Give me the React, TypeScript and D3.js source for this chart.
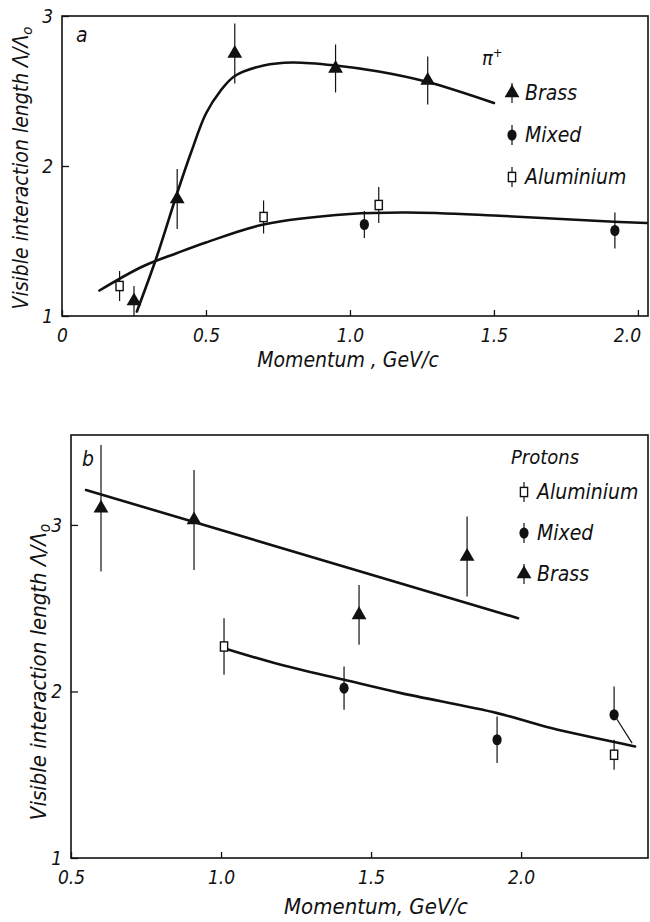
import * as d3 from 'd3';
import React, { useRef, useEffect } from 'react';

const W = 650;
const H = 922;
const FONT = "'Liberation Sans Narrow', 'DejaVu Sans Condensed', 'DejaVu Sans', sans-serif";
const INK = '#111';

// ---- panel a : pi+ ----
const aTicksX = [0, 0.5, 1.0, 1.5, 2.0];
const aTickLabelsX = ['0', '0.5', '1.0', '1.5', '2.0'];
const aTicksY = [1, 2, 3];
// momentum, value, error
const aBrass = [
  { p: 0.25, v: 1.1, e: 0.1 },
  { p: 0.4, v: 1.78, e: 0.2 },
  { p: 0.6, v: 2.75, e: 0.2 },
  { p: 0.95, v: 2.65, e: 0.16 },
  { p: 1.27, v: 2.57, e: 0.16 },
];
const aMixed = [
  { p: 1.05, v: 1.61, e: 0.09 },
  { p: 1.92, v: 1.57, e: 0.12 },
];
const aAlum = [
  { p: 0.2, v: 1.2, e: 0.1 },
  { p: 0.7, v: 1.66, e: 0.11 },
  { p: 1.1, v: 1.74, e: 0.12 },
];
const aBrassFit = [
  [0.26, 1.03], [0.33, 1.4], [0.4, 1.82], [0.45, 2.1], [0.5, 2.35], [0.55, 2.5],
  [0.6, 2.6], [0.7, 2.67], [0.8, 2.69], [0.95, 2.67], [1.1, 2.63], [1.27, 2.56], [1.5, 2.42],
];
const aAlumFit = [
  [0.13, 1.17], [0.28, 1.33], [0.4, 1.42], [0.5, 1.49], [0.7, 1.61], [1.0, 1.68],
  [1.2, 1.69], [1.5, 1.67], [1.9, 1.63], [2.03, 1.62],
];
const aLegend = ['Brass', 'Mixed', 'Aluminium'];

// ---- panel b : protons ----
const bTicksX = [0.5, 1.0, 1.5, 2.0];
const bTickLabelsX = ['0.5', '1.0', '1.5', '2.0'];
const bTicksY = [1, 2, 3];
const bBrass = [
  { p: 0.6, v: 3.1, e: 0.38 },
  { p: 0.91, v: 3.03, e: 0.3 },
  { p: 1.46, v: 2.46, e: 0.18 },
  { p: 1.82, v: 2.81, e: 0.24 },
];
const bMixed = [
  { p: 1.41, v: 2.02, e: 0.13 },
  { p: 1.92, v: 1.71, e: 0.14 },
  { p: 2.31, v: 1.86, e: 0.17, skew: 0.06 },
];
const bAlum = [
  { p: 1.01, v: 2.27, e: 0.17 },
  { p: 2.31, v: 1.62, e: 0.09 },
];
const bBrassFit = [[0.55, 3.21], [1.99, 2.44]];
const bAlumFit = [
  [1.01, 2.26], [1.2, 2.16], [1.41, 2.07], [1.6, 1.99], [1.92, 1.87], [2.1, 1.78], [2.38, 1.67],
];
const bLegend = ['Aluminium', 'Mixed', 'Brass'];

const drawMarker = (g, kind, cx, cy) => {
  if (kind === 'Brass') {
    g.append('path')
      .attr('d', d3.symbol(d3.symbolTriangle, 95)())
      .attr('transform', `translate(${cx},${cy})`)
      .attr('fill', INK);
  } else if (kind === 'Mixed') {
    g.append('ellipse')
      .attr('cx', cx).attr('cy', cy).attr('rx', 4.6).attr('ry', 5.6)
      .attr('fill', INK);
  } else {
    g.append('rect')
      .attr('x', cx - 3.6).attr('y', cy - 4.6).attr('width', 7.2).attr('height', 9.2)
      .attr('fill', '#fff').attr('stroke', INK).attr('stroke-width', 1.4);
  }
};

const drawPanel = (svg, cfg) => {
  const x = d3.scaleLinear().domain(cfg.xDomain).range([cfg.left, cfg.right]);
  const y = d3.scaleLinear().domain(cfg.yDomain).range([cfg.bottom, cfg.top]);
  const g = svg.append('g');

  // frame
  g.append('rect')
    .attr('x', cfg.left).attr('y', cfg.top)
    .attr('width', cfg.right - cfg.left).attr('height', cfg.bottom - cfg.top)
    .attr('fill', 'none').attr('stroke', INK).attr('stroke-width', 1.6);

  // axes, ticks pointing inwards
  const xAxis = d3.axisBottom(x)
    .tickValues(cfg.ticksX)
    .tickFormat((d, i) => cfg.tickLabelsX[i])
    .tickSizeInner(-6).tickSizeOuter(0).tickPadding(13);
  const gx = g.append('g')
    .attr('transform', `translate(0,${cfg.bottom})`)
    .call(xAxis)
    .call(s => s.select('.domain').remove());
  // the last label sits left of its tick near the edge
  gx.selectAll('.tick text').filter((d, i, n) => i === n.length - 1).attr('dx', cfg.lastLabelDx);

  const yAxis = d3.axisLeft(y)
    .tickValues(cfg.ticksY)
    .tickFormat(d => String(d))
    .tickSizeInner(-7).tickSizeOuter(0).tickPadding(9);
  g.append('g')
    .attr('transform', `translate(${cfg.left},0)`)
    .call(yAxis)
    .call(s => s.select('.domain').remove());

  g.selectAll('.tick line').attr('stroke', INK).attr('stroke-width', 1.3);
  g.selectAll('.tick text')
    .attr('font-family', FONT).attr('font-style', 'italic')
    .attr('font-size', 19).attr('fill', INK);

  // fitted curves
  const line = d3.line()
    .x(d => x(d[0])).y(d => y(d[1]))
    .curve(d3.curveCatmullRom.alpha(0.5));
  cfg.fits.forEach(f => {
    g.append('path').attr('d', line(f))
      .attr('fill', 'none').attr('stroke', INK).attr('stroke-width', 2.6)
      .attr('stroke-linecap', 'round');
  });

  // data points with error bars
  cfg.series.forEach(s => {
    s.data.forEach(d => {
      g.append('line')
        .attr('x1', x(d.p)).attr('x2', x(d.p))
        .attr('y1', y(d.v + d.e)).attr('y2', y(d.v))
        .attr('stroke', INK).attr('stroke-width', 1.2);
      g.append('line')
        .attr('x1', x(d.p)).attr('x2', x(d.p + (d.skew || 0)))
        .attr('y1', y(d.v)).attr('y2', y(d.v - d.e))
        .attr('stroke', INK).attr('stroke-width', 1.2);
      drawMarker(g, s.name, x(d.p), y(d.v));
    });
  });

  // panel letter
  g.append('text')
    .attr('x', cfg.letter[0]).attr('y', cfg.letter[1])
    .attr('font-family', FONT).attr('font-style', 'italic').attr('font-size', 21)
    .attr('fill', INK).text(cfg.letterText);

  // legend
  const lg = g.append('g');
  lg.append('text')
    .attr('x', cfg.legend.x - 30 + cfg.legend.titleDx).attr('y', cfg.legend.y0 - cfg.legend.titleGap)
    .attr('font-family', FONT).attr('font-style', 'italic').attr('font-size', 20)
    .attr('fill', INK)
    .call(t => {
      t.append('tspan').text(cfg.legend.title);
      if (cfg.legend.sup) {
        t.append('tspan').attr('dy', -8).attr('font-size', 13).text(cfg.legend.sup);
      }
    });
  cfg.legend.items.forEach((name, i) => {
    const cy = cfg.legend.y0 + i * cfg.legend.step;
    lg.append('line')
      .attr('x1', cfg.legend.x).attr('x2', cfg.legend.x)
      .attr('y1', cy - 10).attr('y2', cy + 10)
      .attr('stroke', INK).attr('stroke-width', 1.2);
    drawMarker(lg, name, cfg.legend.x, cy);
    lg.append('text')
      .attr('x', cfg.legend.x + 13).attr('y', cy + 7)
      .attr('font-family', FONT).attr('font-style', 'italic').attr('font-size', 21)
      .attr('fill', INK).text(name);
  });

  // axis titles
  g.append('text')
    .attr('transform', `translate(${cfg.yTitle[0]},${cfg.yTitle[1]}) rotate(-90)`)
    .attr('text-anchor', 'middle')
    .attr('font-family', FONT).attr('font-style', 'italic').attr('font-size', cfg.yTitle[2])
    .attr('fill', INK)
    .call(t => {
      t.append('tspan').text('Visible interaction length Λ/Λ');
      t.append('tspan').attr('dy', 4).attr('font-size', cfg.yTitle[2] * 0.7).text('o');
    });
  g.append('text')
    .attr('x', cfg.xTitle[0]).attr('y', cfg.xTitle[1])
    .attr('text-anchor', 'middle')
    .attr('font-family', FONT).attr('font-style', 'italic').attr('font-size', cfg.xTitle[2])
    .attr('fill', INK).text(cfg.xTitleText);
};

const App = () => {
  const ref = useRef(null);

  useEffect(() => {
    const svg = d3.select(ref.current);
    svg.selectAll('*').remove();

    drawPanel(svg, {
      left: 62, right: 648, top: 16, bottom: 316,
      xDomain: [0, 2.035], yDomain: [1, 3],
      ticksX: aTicksX, tickLabelsX: aTickLabelsX, ticksY: aTicksY, lastLabelDx: -11,
      fits: [aBrassFit, aAlumFit],
      series: [
        { name: 'Brass', data: aBrass },
        { name: 'Mixed', data: aMixed },
        { name: 'Aluminium', data: aAlum },
      ],
      letter: [76, 42], letterText: 'a',
      legend: { x: 512, y0: 93, step: 42, title: 'π', sup: '+', titleDx: 0, titleGap: 28, items: aLegend },
      yTitle: [28, 168, 21],
      xTitle: [348, 367, 21], xTitleText: 'Momentum , GeV/c',
    });

    drawPanel(svg, {
      left: 71, right: 648, top: 435, bottom: 858,
      xDomain: [0.5, 2.423], yDomain: [1, 3.54],
      ticksX: bTicksX, tickLabelsX: bTickLabelsX, ticksY: bTicksY, lastLabelDx: 0,
      fits: [bBrassFit, bAlumFit],
      series: [
        { name: 'Brass', data: bBrass },
        { name: 'Mixed', data: bMixed },
        { name: 'Aluminium', data: bAlum },
      ],
      letter: [82, 466], letterText: 'b',
      legend: { x: 524, y0: 492, step: 41, title: 'Protons', sup: null, titleDx: 17, titleGap: 28, items: bLegend },
      yTitle: [46, 672, 22],
      xTitle: [376, 914, 22], xTitleText: 'Momentum, GeV/c',
    });
  }, []);

  return (
    <svg ref={ref} width={W} height={H}
      style={{ position: 'absolute', left: 0, top: 0, background: '#fff' }} />
  );
};

export default App;
